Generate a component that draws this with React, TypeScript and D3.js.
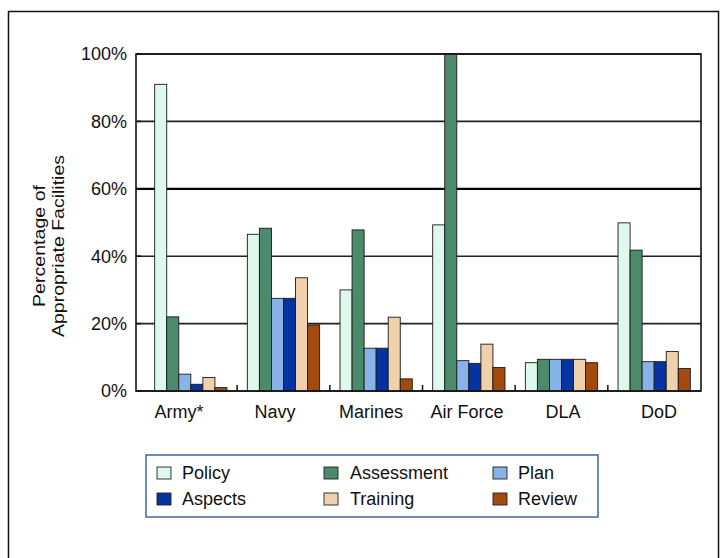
import React from "react";
import * as d3 from "d3";

const categories = ["Army*", "Navy", "Marines", "Air Force", "DLA", "DoD"];
const seriesNames = ["Policy", "Assessment", "Plan", "Aspects", "Training", "Review"];
const policy = [91, 46.5, 30, 49.3, 8.4, 49.9];
const assessment = [22, 48.3, 47.8, 100, 9.4, 41.8];
const plan = [5, 27.5, 12.7, 9, 9.4, 8.7];
const aspects = [2, 27.5, 12.7, 8.2, 9.4, 8.7];
const training = [4, 33.6, 21.9, 13.9, 9.4, 11.7];
const review = [1, 19.6, 3.6, 7, 8.4, 6.7];
const yTicks = [0, 20, 40, 60, 80, 100];

const seriesValues = [policy, assessment, plan, aspects, training, review];
const colors = ["#dff8ee", "#4b8a6b", "#88b3e8", "#0733a2", "#f0d1ab", "#a34a0e"];

const W = 728;
const H = 558;
const plot = { left: 136, right: 701, top: 54, bottom: 391 };
const font = "'Liberation Sans', Arial, Helvetica, sans-serif";

export default function App() {
  const x = d3
    .scaleBand<string>()
    .domain(categories)
    .range([138, 707])
    .paddingInner(0.22)
    .paddingOuter(0.18);
  const xs = d3
    .scaleBand<string>()
    .domain(seriesNames)
    .range([0, x.bandwidth()]);
  const y = d3.scaleLinear().domain([0, 100]).range([plot.bottom, plot.top]);
  // labels in the original sit on their own even spacing, not on the bar groups
  const xLabel = d3.scalePoint<string>().domain(categories).range([179, 659]);
  const gap = (x.step() * x.paddingInner()) / 2;

  const legendCols = [
    { sw: 157, tx: 182 },
    { sw: 324, tx: 350 },
    { sw: 493, tx: 518 },
  ];
  const legendRows = [473, 499];

  return (
    <svg
      width={W}
      height={H}
      style={{ position: "absolute", left: 0, top: 0, background: "#fff" }}
      fontFamily={font}
    >
      <rect x={8.5} y={11.5} width={710} height={560} fill="none" stroke="#111" strokeWidth={1.5} />

      {/* gridlines */}
      {yTicks.map((t) => (
        <line
          key={"g" + t}
          x1={plot.left}
          x2={plot.right}
          y1={y(t)}
          y2={y(t)}
          stroke={t === 60 ? "#000" : "#222"}
          strokeWidth={t === 60 ? 2.2 : 1.6}
        />
      ))}

      {/* bars */}
      {categories.map((c, i) => (
        <g key={c} transform={`translate(${x(c)},0)`}>
          {seriesNames.map((s, j) => (
            <rect
              key={s}
              x={xs(s)}
              y={y(seriesValues[j][i])}
              width={xs.bandwidth()}
              height={plot.bottom - y(seriesValues[j][i])}
              fill={colors[j]}
              stroke="#1a1a1a"
              strokeWidth={0.9}
            />
          ))}
        </g>
      ))}

      {/* plot frame */}
      <rect
        x={plot.left}
        y={plot.top}
        width={plot.right - plot.left}
        height={plot.bottom - plot.top}
        fill="none"
        stroke="#111"
        strokeWidth={1.6}
      />

      {/* category separator ticks */}
      {categories.slice(1).map((c) => (
        <line
          key={"s" + c}
          x1={(x(c) as number) - gap}
          x2={(x(c) as number) - gap}
          y1={plot.bottom}
          y2={plot.bottom - 6}
          stroke="#111"
          strokeWidth={1.5}
        />
      ))}

      {/* y ticks */}
      {yTicks.map((t) => (
        <g key={"t" + t}>
          <line x1={plot.left} x2={plot.left + 5} y1={y(t)} y2={y(t)} stroke="#111" strokeWidth={1.5} />
          <text x={127} y={y(t)} dy="0.35em" textAnchor="end" fontSize={18} fill="#111">
            {t}%
          </text>
        </g>
      ))}

      {/* category labels */}
      {categories.map((c) => (
        <text key={"l" + c} x={xLabel(c)} y={418} textAnchor="middle" fontSize={18} fill="#111">
          {c}
        </text>
      ))}

      {/* y title */}
      <g transform="translate(45,246) rotate(-90)">
        <text
          x={0}
          y={0}
          textAnchor="middle"
          fontSize={17}
          fill="#111"
          textLength={122}
          lengthAdjust="spacingAndGlyphs"
        >
          Percentage of
        </text>
        <text
          x={0}
          y={19}
          textAnchor="middle"
          fontSize={17}
          fill="#111"
          textLength={182}
          lengthAdjust="spacingAndGlyphs"
        >
          Appropriate Facilities
        </text>
      </g>

      {/* legend */}
      <rect x={146} y={455} width={452} height={62} fill="#fff" stroke="#4a6db0" strokeWidth={1.6} />
      {seriesNames.map((s, j) => {
        const col = legendCols[j % 3];
        const row = legendRows[Math.floor(j / 3)];
        return (
          <g key={"lg" + s}>
            <rect x={col.sw} y={row - 6} width={14} height={12} fill={colors[j]} stroke="#222" strokeWidth={0.9} />
            <text x={col.tx} y={row} dy="0.35em" fontSize={18} fill="#111">
              {s}
            </text>
          </g>
        );
      })}
    </svg>
  );
}
